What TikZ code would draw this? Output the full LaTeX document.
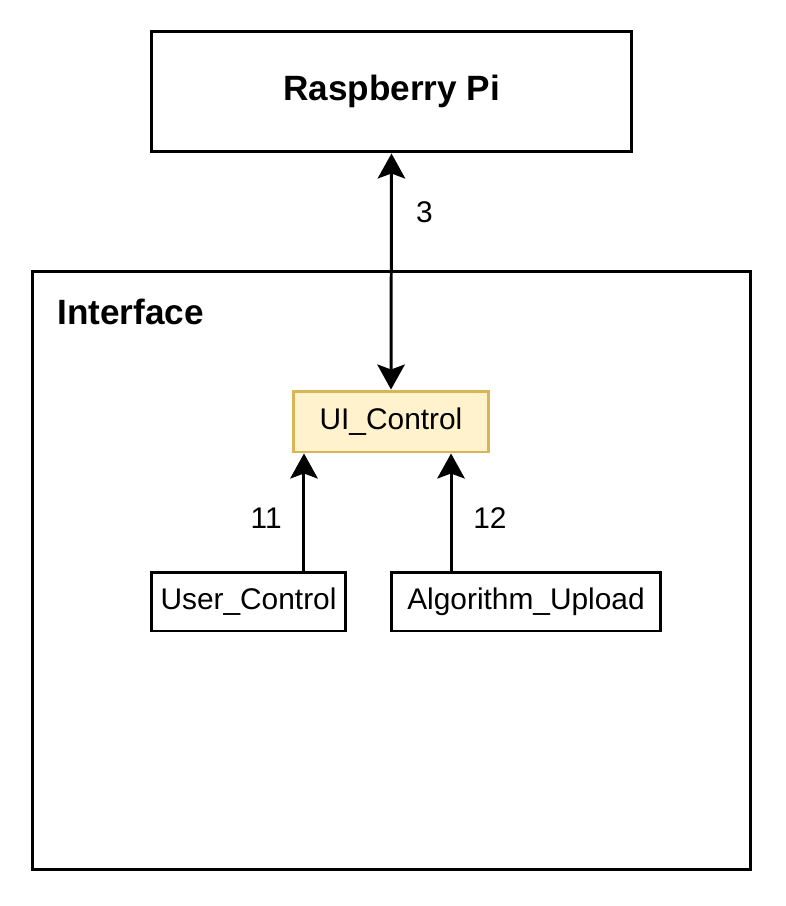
\documentclass[tikz,border=0pt]{standalone}
\usepackage{fontspec}
\setmainfont{Liberation Sans}
\usetikzlibrary{arrows.meta}
\definecolor{uifill}{HTML}{FFF2CC}
\definecolor{uidraw}{HTML}{D6B656}

\begin{document}
\begin{tikzpicture}[x=0.02cm, y=-0.02cm,
    box/.style={
        draw,
        line width=1.7pt,
        align=center,
        inner sep=0pt,
        font=\fontsize{17}{20}\selectfont
    },
    bigbox/.style={
        box,
        font=\fontsize{20}{24}\selectfont\bfseries
    },
    link/.style={
        line width=1.7pt,
        -{Stealth[length=0.5cm, width=0.55cm, inset=0.1cm]}
    },
    lbl/.style={
        font=\fontsize{17}{20}\selectfont
    }
]

\useasboundingbox (0,0) rectangle (786,906);

%%%%%%%%%%%%%%%%%%%%%%%%
% Raspberry Pi
%%%%%%%%%%%%%%%%%%%%%%%%

\node[bigbox, minimum width=9.62cm, minimum height=2.42cm] (rpi) at (391.5,91.5) {Raspberry Pi};

%%%%%%%%%%%%%%%%%%%%%%%%
% Interface
%%%%%%%%%%%%%%%%%%%%%%%%

\node[box, minimum width=14.38cm, minimum height=11.98cm] (iface) at (391.5,570.5) {};
\node[font=\fontsize{20}{24}\selectfont\bfseries, anchor=west, inner sep=0pt] (ifacetitle) at (57,312) {Interface};

% --- Blocks ---
\node[box, fill=uifill, draw=uidraw, minimum width=3.92cm, minimum height=1.22cm] (uictrl) at (391,421.5) {UI\_Control};
\node[box, minimum width=3.9cm, minimum height=1.18cm] (user) at (248.5,601.5) {User\_Control};
\node[box, minimum width=5.4cm, minimum height=1.18cm] (algo) at (526,601.5) {Algorithm\_Upload};

%%%%%%%%%%%%%%%%%%%%%%%%
% Flechas
%%%%%%%%%%%%%%%%%%%%%%%%

\draw[link, {Stealth[length=0.5cm, width=0.55cm, inset=0.1cm]}-{Stealth[length=0.5cm, width=0.55cm, inset=0.1cm]}]
    (rpi.south) -- node[lbl, pos=0.25, right=0.35cm] {3} (uictrl.north);

\draw[link] ([xshift=1.11cm]user.north)
    -- node[lbl, pos=0.45, left=0.3cm] {11}
    ([xshift=1.11cm]user.north |- uictrl.south);

\draw[link] ([xshift=-1.5cm]algo.north)
    -- node[lbl, pos=0.45, right=0.3cm] {12}
    ([xshift=-1.5cm]algo.north |- uictrl.south);

\end{tikzpicture}
\end{document}
